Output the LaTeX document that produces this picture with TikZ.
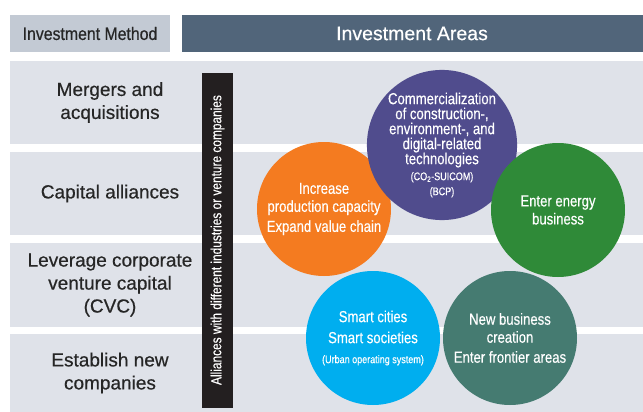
\documentclass[tikz,border=0pt]{standalone}
\usepackage{fontspec}
\setmainfont[FakeBold=0.5]{Liberation Sans}
\newfontfamily\narrowfont[FakeStretch=0.82, FakeBold=0.3]{Liberation Sans}
\newfontfamily\headfont[FakeStretch=0.88, FakeBold=0.5]{Liberation Sans}
\definecolor{bandgray}{HTML}{DFE2E9}
\definecolor{headlight}{HTML}{C3CAD4}
\definecolor{headdark}{HTML}{51657A}
\definecolor{barblack}{HTML}{231F20}
\definecolor{areaorange}{HTML}{F47B20}
\definecolor{areapurple}{HTML}{504C8D}
\definecolor{areagreen}{HTML}{2F8A38}
\definecolor{areateal}{HTML}{457B71}
\definecolor{areablue}{HTML}{00AEEF}
\tikzset{
  band/.style={fill=bandgray, draw=none},
  method/.style={align=center, text=black!85, font=\fontsize{19}{23}\selectfont},
  area/.style={circle, minimum size=134pt, inner sep=0pt, align=center, text=white,
    font=\narrowfont\fontsize{16}{18}\selectfont},
}
\begin{document}
\begin{tikzpicture}[x=1pt, y=-1pt]
\useasboundingbox[fill=white] (0,0) rectangle (643,412);
% headers
\fill[headlight] (10,15) rectangle (170,52);
\fill[headdark] (182,15) rectangle (643,52);
\node[text=black!85, font=\headfont\fontsize{18}{21}\selectfont] (methodhead) at (90,33.5) {Investment Method};
\node[text=white, font=\fontsize{19.5}{23}\selectfont] (areahead) at (412,33.5) {Investment Areas};
% rows
\fill[band] (10,61) rectangle (643,144);
\fill[band] (10,152) rectangle (643,235);
\fill[band] (10,243) rectangle (643,327);
\fill[band] (10,334) rectangle (643,412);
\node[method] (merger) at (110,102.5) {Mergers and\\acquisitions};
\node[method] (capital) at (110,193.5) {Capital alliances};
\node[method] (cvc) at (110,285) {Leverage corporate\\venture capital\\(CVC)};
\node[method] (establish) at (110,373) {Establish new\\companies};
% alliances bar
\fill[barblack] (202,73) rectangle (233,408);
\node[rotate=90, text=white, font=\narrowfont\fontsize{14.5}{16}\selectfont] (alliance) at (217.5,240)
  {Alliances with different industries or venture companies};
% areas
\node[area, fill=areaorange] (capacity) at (324,209)
  {Increase\\production capacity\\[2pt]Expand value chain};
\node[area, fill=areapurple, font=\narrowfont\fontsize{16}{15}\selectfont] (tech) at (442,145)
  {Commercialization\\of construction-,\\environment-, and\\digital-related\\technologies\\[1pt]
   {\fontsize{11}{13}\selectfont (CO\textsubscript{2}-SUICOM)}\\
   {\fontsize{11}{13}\selectfont (BCP)}};
\node[area, fill=areagreen] (energy) at (558,210) {Enter energy\\business};
\node[area, fill=areateal] (frontier) at (510,338)
  {New business\\creation\\[2pt]Enter frontier areas};
\node[area, fill=areablue] (smart) at (373,338)
  {Smart cities\\[3pt]Smart societies\\[2pt]{\fontsize{11}{13}\selectfont (Urban operating system)}};
\end{tikzpicture}
\end{document}
